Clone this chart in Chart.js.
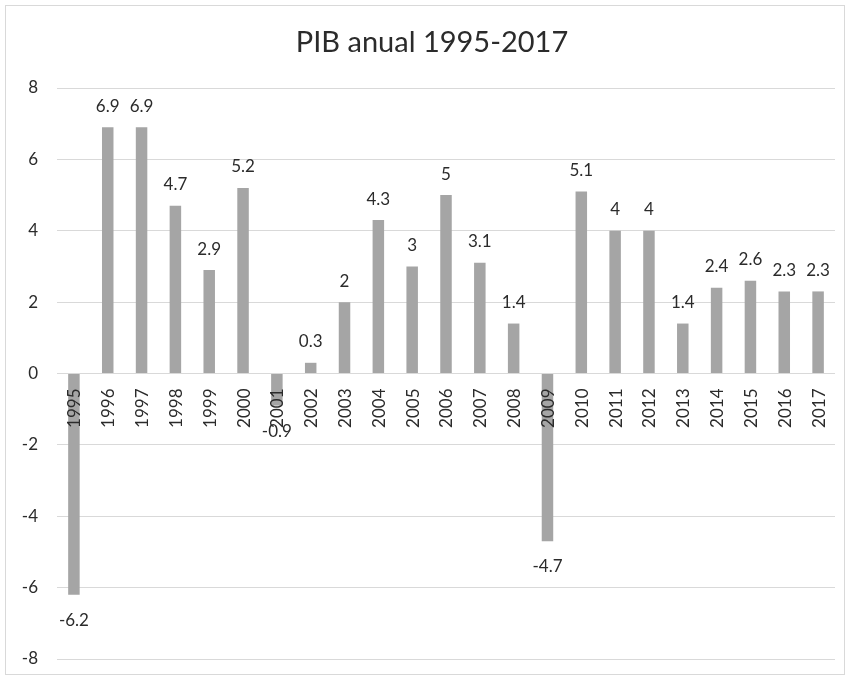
<!DOCTYPE html>
<html>
<head>
<meta charset="utf-8">
<title>PIB anual 1995-2017</title>
<script src="https://cdn.jsdelivr.net/npm/chart.js@4"></script>
<style>
  html, body { margin: 0; padding: 0; background: #ffffff; }
  #wrap { width: 850px; height: 680px; position: relative; }
</style>
</head>
<body>
<div id="wrap"><canvas id="chart" width="850" height="680"></canvas></div>
<script>
// Annual GDP growth (%)
const years = ['1995','1996','1997','1998','1999','2000','2001','2002','2003','2004','2005',
               '2006','2007','2008','2009','2010','2011','2012','2013','2014','2015','2016','2017'];
const growth = [-6.2, 6.9, 6.9, 4.7, 2.9, 5.2, -0.9, 0.3, 2, 4.3, 3,
                5, 3.1, 1.4, -4.7, 5.1, 4, 4, 1.4, 2.4, 2.6, 2.3, 2.3];
const yMin = -8, yMax = 8, yStep = 2;
const chartTitle = 'PIB anual 1995-2017';

const FONT = 'Lato, "Open Sans", sans-serif';
const TEXT = '#2b2b2b';
const GRID = '#D9D9D9';

// Outer frame and title
const framePlugin = {
  id: 'frame',
  beforeDraw(chart) {
    const ctx = chart.ctx;
    ctx.save();
    ctx.fillStyle = '#ffffff';
    ctx.fillRect(0, 0, chart.width, chart.height);
    ctx.strokeStyle = GRID;
    ctx.lineWidth = 1;
    ctx.strokeRect(5.5, 5.5, chart.width - 11, chart.height - 11);
    ctx.fillStyle = TEXT;
    ctx.font = '29px ' + FONT;
    ctx.textAlign = 'center';
    ctx.textBaseline = 'alphabetic';
    ctx.fillText(chartTitle, 432, 52);
    ctx.restore();
  }
};

// Category labels sit on the zero line (rotated), value labels at bar ends
const labelPlugin = {
  id: 'labels',
  afterDatasetsDraw(chart) {
    const ctx = chart.ctx;
    const xs = chart.scales.x, ys = chart.scales.y;
    const zero = ys.getPixelForValue(0);
    ctx.save();
    ctx.fillStyle = TEXT;
    ctx.font = '17px ' + FONT;

    // year labels, reading bottom-to-top, ending just below zero
    years.forEach((yr, i) => {
      const x = xs.getPixelForValue(i);
      ctx.save();
      ctx.translate(x, zero + 15);
      ctx.rotate(-Math.PI / 2);
      ctx.textAlign = 'right';
      ctx.textBaseline = 'middle';
      ctx.fillText(yr, 0, 1);
      ctx.restore();
    });

    // value labels
    const meta = chart.getDatasetMeta(0);
    meta.data.forEach((bar, i) => {
      const v = growth[i];
      ctx.textAlign = 'center';
      ctx.textBaseline = 'alphabetic';
      const y = v >= 0 ? bar.y - 15.5 : bar.y + 31;
      ctx.fillText(String(v), bar.x, y);
    });
    ctx.restore();
  }
};

new Chart(document.getElementById('chart'), {
  type: 'bar',
  data: {
    labels: years,
    datasets: [{
      data: growth,
      backgroundColor: '#A5A5A5',
      borderWidth: 0,
      categoryPercentage: 1,
      barPercentage: 0.34
    }]
  },
  options: {
    responsive: false,
    animation: false,
    events: [],
    layout: { padding: { top: 88, left: 0, right: 15, bottom: 21 } },
    plugins: {
      legend: { display: false },
      tooltip: { enabled: false },
      title: { display: false }
    },
    scales: {
      x: {
        display: false,
        offset: true
      },
      y: {
        min: yMin,
        max: yMax,
        afterFit(scale) {
          scale.width = 57;
          scale.paddingTop = 0;
          scale.paddingBottom = 0;
        },
        border: { display: false },
        grid: { color: GRID, lineWidth: 1, drawTicks: false },
        ticks: {
          stepSize: yStep,
          padding: 19,
          color: TEXT,
          font: { family: FONT, size: 17 }
        }
      }
    }
  },
  plugins: [framePlugin, labelPlugin]
});
</script>
</body>
</html>
